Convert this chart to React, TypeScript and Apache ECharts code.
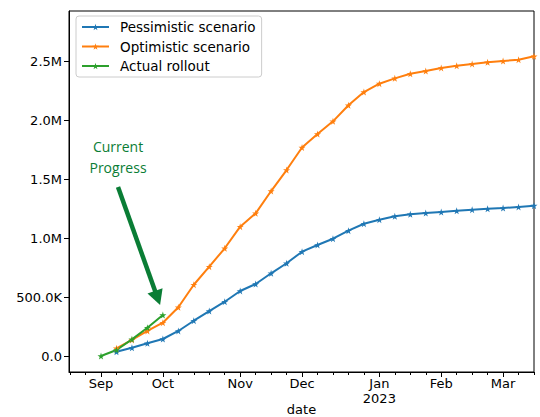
import React, { useEffect, useRef } from 'react';
import * as echarts from 'echarts';

// Weekly periods (week ending on Saturday), week 0 ends 2022-09-03
const firstWeekEnding = '2022-09-03';
const weekCount = 29;

// Month tick labels and the first day of each month
const monthStarts = ['2022-09-01', '2022-10-01', '2022-11-01', '2022-12-01', '2023-01-01', '2023-02-01', '2023-03-01'];
const monthLabels = ['Sep', 'Oct', 'Nov', 'Dec', 'Jan\n2023', 'Feb', 'Mar'];

// Series values by week index (null = no value)
const pessimistic: (number | null)[] = [
  null, 36000, 70000, 108000, 144000, 212000, 299000, 381000, 460000, 551000,
  610000, 701000, 786000, 884000, 941000, 994000, 1062000, 1121000, 1155000, 1184000,
  1201000, 1212000, 1220000, 1231000, 1240000, 1248000, 1254000, 1263000, 1274000,
];
const optimistic: (number | null)[] = [
  null, 65000, 136000, 212000, 282000, 413000, 604000, 757000, 913000, 1096000,
  1209000, 1398000, 1576000, 1767000, 1881000, 1989000, 2125000, 2237000, 2308000, 2353000,
  2392000, 2415000, 2441000, 2460000, 2475000, 2489000, 2500000, 2511000, 2540000,
];
const actual: (number | null)[] = [0, 51000, 141000, 240000, 347000];

const yTicks = [0, 500000, 1000000, 1500000, 2000000, 2500000];

const DAY = 86400000;
const toWeekIndex = (d: string) => {
  const t0 = Date.parse(firstWeekEnding + 'T00:00:00Z');
  const t = Date.parse(d + 'T00:00:00Z');
  return Math.ceil((t - t0) / (7 * DAY));
};
const monthTickPos = monthStarts.map(toWeekIndex);
const weekIdx = Array.from({ length: weekCount }, (_, i) => i);
const minorPos = Array.from({ length: 31 }, (_, i) => i - 2);

const toPairs = (vals: (number | null)[]) =>
  vals.map((v, i) => [weekIdx[i], v]).filter((p) => p[1] !== null);

const STAR = 'path://M50,0 L61,35 L98,35 L68,57 L79,91 L50,70 L21,91 L32,57 L2,35 L39,35 Z';
const FONT = 'DejaVu Sans';
const ANNO_COLOR = '#0a7d35';

const fmtY = (v: number) => {
  if (v === 0) return '0.0';
  if (Math.abs(v) >= 1e6) return (v / 1e6).toFixed(1) + 'M';
  return (v / 1e3).toFixed(1) + 'K';
};

export default function App() {
  const ref = useRef<HTMLDivElement>(null);
  useEffect(() => {
    if (!ref.current) return;
    const chart = echarts.init(ref.current, undefined, { renderer: 'svg' });
    const lineSeries = (name: string, color: string, vals: (number | null)[]) => ({
      name,
      type: 'line',
      data: toPairs(vals),
      color,
      symbol: STAR,
      symbolSize: 7,
      showSymbol: true,
      lineStyle: { width: 2, color },
      itemStyle: { color },
      emphasis: { disabled: true },
    });
    const xMin = -2.07;
    const xMax = 28;
    chart.setOption({
      animation: false,
      grid: {
        left: 69, right: 6, top: 11, bottom: 45,
        outerBoundsMode: 'none',
        containLabel: false,
        show: true, borderColor: '#000', borderWidth: 1, backgroundColor: 'transparent',
      },
      legend: {
        orient: 'vertical',
        left: 76, top: 16,
        padding: [4, 6, 4, 5],
        itemGap: 5.5,
        itemWidth: 27,
        itemHeight: 8,
        backgroundColor: 'rgba(255,255,255,0.8)',
        borderColor: '#cccccc',
        borderWidth: 1,
        borderRadius: 3,
        textStyle: { fontFamily: FONT, fontSize: 13.5, color: '#000', padding: [0, 0, 0, 6], lineHeight: 14 },
        data: ['Pessimistic scenario', 'Optimistic scenario', 'Actual rollout'],
      },
      xAxis: [
        {
          type: 'value',
          min: xMin, max: xMax,
          name: 'date',
          nameLocation: 'middle',
          nameGap: 31,
          nameMoveOverlap: false,
          nameTextStyle: { fontFamily: FONT, fontSize: 13, color: '#000', verticalAlign: 'top' },
          axisLine: { show: true, onZero: false, lineStyle: { color: '#000', width: 1 } },
          axisTick: { show: true, length: 5, lineStyle: { color: '#000' }, customValues: monthTickPos },
          axisLabel: {
            fontFamily: FONT, fontSize: 13, color: '#000', margin: 4, lineHeight: 15,
            customValues: monthTickPos,
            formatter: (v: number) => {
              const i = monthTickPos.indexOf(Math.round(v));
              return i >= 0 ? monthLabels[i] : '';
            },
          },
          splitLine: { show: false },
        },
        {
          type: 'value',
          min: xMin, max: xMax,
          position: 'bottom',
          axisLine: { show: false, onZero: false },
          axisTick: { show: true, length: 3, lineStyle: { color: '#000' }, customValues: minorPos },
          axisLabel: { show: false, customValues: minorPos },
          splitLine: { show: false },
        },
      ],
      yAxis: {
        type: 'value',
        min: -135600, max: 2924000,
        axisLine: { show: true, onZero: false, lineStyle: { color: '#000', width: 1 } },
        axisTick: { show: true, length: 5, lineStyle: { color: '#000' }, customValues: yTicks },
        axisLabel: {
          fontFamily: FONT, fontSize: 13, color: '#000', margin: 7,
          customValues: yTicks,
          formatter: (v: number) => fmtY(v),
        },
        splitLine: { show: false },
      },
      series: [
        lineSeries('Pessimistic scenario', '#1f77b4', pessimistic),
        lineSeries('Optimistic scenario', '#ff7f0e', optimistic),
        lineSeries('Actual rollout', '#2ca02c', actual),
      ],
    });

    // Annotation positioned in data coordinates
    const p = (x: number, y: number) => chart.convertToPixel({ gridIndex: 0 }, [x, y]) as number[];
    const textPos = p(1.1, 1686000);
    const start = p(1.1, 1432000);
    const tip = p(3.82, 432000);
    const dx = tip[0] - start[0];
    const dy = tip[1] - start[1];
    const len = Math.hypot(dx, dy);
    const ux = dx / len, uy = dy / len;
    const headLen = 15, headHalf = 8;
    const base = [tip[0] - ux * headLen, tip[1] - uy * headLen];
    const nx = -uy, ny = ux;
    chart.setOption({
      graphic: [
        {
          type: 'text',
          x: textPos[0], y: textPos[1],
          style: {
            text: 'Current\nProgress',
            fill: ANNO_COLOR,
            font: '14px "Open Sans"',
            align: 'center',
            verticalAlign: 'middle',
            lineHeight: 21,
          },
        },
        {
          type: 'line',
          shape: { x1: start[0], y1: start[1], x2: base[0] + ux * 2, y2: base[1] + uy * 2 },
          style: { stroke: ANNO_COLOR, lineWidth: 4.5 },
        },
        {
          type: 'polygon',
          shape: {
            points: [
              [tip[0], tip[1]],
              [base[0] + nx * headHalf, base[1] + ny * headHalf],
              [base[0] - nx * headHalf, base[1] - ny * headHalf],
            ],
          },
          style: { fill: ANNO_COLOR },
        },
      ],
    });
    return () => chart.dispose();
  }, []);
  return <div ref={ref} style={{ position: 'absolute', left: 0, top: 0, width: 540, height: 417 }} />;
}
